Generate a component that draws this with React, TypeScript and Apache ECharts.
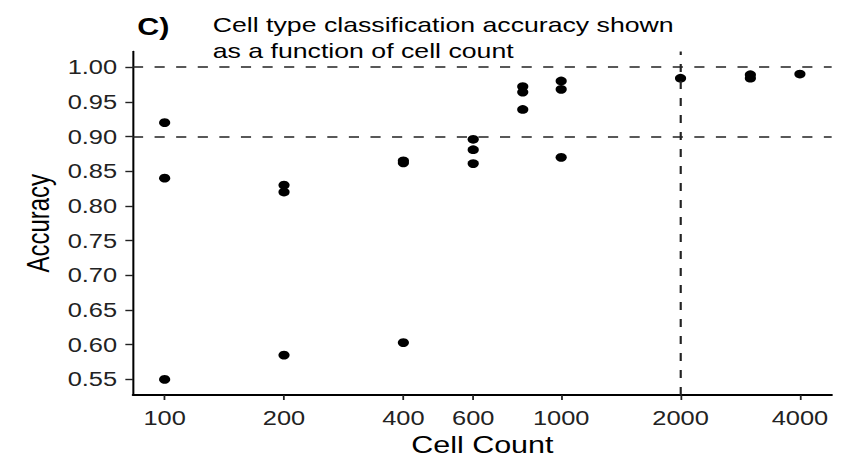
import React, { useEffect, useRef } from "react";
import * as echarts from "echarts";

// ---- data ----
const cellCounts = [100, 200, 400, 600, 800, 1000, 2000, 3000, 4000];
const accuracyByCount = [
  [0.92, 0.84, 0.55],
  [0.83, 0.82, 0.585],
  [0.865, 0.862, 0.603],
  [0.896, 0.881, 0.861],
  [0.972, 0.964, 0.939],
  [0.98, 0.968, 0.87],
  [0.984],
  [0.989, 0.984],
  [0.99],
];
const xTickValues = [100, 200, 400, 600, 1000, 2000, 4000];
const yTickValues = [0.55, 0.6, 0.65, 0.7, 0.75, 0.8, 0.85, 0.9, 0.95, 1.0];
const hLines = [1.0, 0.9];
const vLines = [2000];
const panelLabel = "C)";
const titleText = "Cell type classification accuracy shown\nas a function of cell count";
const xName = "Cell Count";
const yName = "Accuracy";

// the reference is stretched horizontally
const S = 1.27;
const W0 = 846 / S;
const H = 462;

export default function App() {
  const ref = useRef<HTMLDivElement>(null);
  useEffect(() => {
    if (!ref.current) return;
    const chart = echarts.init(ref.current, null, { renderer: "svg" });
    const points: number[][] = [];
    cellCounts.forEach((c, i) => accuracyByCount[i].forEach((a) => points.push([c, a])));
    const font = "'Liberation Sans', Arial, Helvetica, sans-serif";
    const dash = [8, 9];
    chart.setOption({
      animation: false,
      backgroundColor: "#ffffff",
      textStyle: { fontFamily: font },
      title: [
        {
          text: panelLabel,
          left: 103,
          top: 10,
          textStyle: { fontFamily: font, fontSize: 24, fontWeight: "bold", color: "#000" },
        },
        {
          text: titleText,
          left: 162.5,
          top: 6.5,
          textStyle: { fontFamily: font, fontSize: 21, lineHeight: 26, fontWeight: "normal", color: "#000" },
        },
      ],
      grid: { left: 104.7, right: W0 - 655, top: 51.5, bottom: H - 396.7 },
      xAxis: {
        type: "log",
        logBase: 10,
        min: 83.2,
        max: 4810,
        name: xName,
        nameLocation: "middle",
        nameGap: 38,
        nameTextStyle: { fontFamily: font, fontSize: 24, color: "#000" },
        axisLine: { show: true, lineStyle: { color: "#000", width: 2 } },
        axisTick: { show: true, length: 5, customValues: xTickValues, lineStyle: { color: "#222", width: 1.4 } },
        axisLabel: {
          customValues: xTickValues,
          margin: 13,
          fontFamily: font,
          fontSize: 20,
          color: "#222",
          formatter: (v: number) => String(Math.round(v)),
        },
        minorTick: { show: false },
        splitLine: { show: false },
      },
      yAxis: {
        type: "value",
        min: 0.5275,
        max: 1.0225,
        name: yName,
        nameLocation: "middle",
        nameGap: 61,
        nameRotate: 90,
        nameTextStyle: { fontFamily: font, fontSize: 24, color: "#000" },
        axisLine: { show: true, lineStyle: { color: "#000", width: 1.6 } },
        axisTick: { show: true, length: 6, customValues: yTickValues, lineStyle: { color: "#222", width: 1.4 } },
        axisLabel: {
          customValues: yTickValues,
          margin: 12.5,
          fontFamily: font,
          fontSize: 20,
          color: "#222",
          formatter: (v: number) => v.toFixed(2),
        },
        splitLine: { show: false },
      },
      series: [
        {
          type: "scatter",
          data: points,
          symbol: "circle",
          symbolSize: 8.8,
          itemStyle: { color: "#000", opacity: 1 },
          markLine: {
            silent: true,
            symbol: "none",
            label: { show: false },
            lineStyle: { type: dash, color: "#222", width: 1.7 },
            data: [
              ...hLines.map((y) => ({ yAxis: y })),
              ...vLines.map((x) => ({ xAxis: x })),
            ],
          },
        },
      ],
    });
    return () => chart.dispose();
  }, []);
  return (
    <div
      style={{
        position: "fixed",
        left: 0,
        top: 0,
        width: 846,
        height: H,
        overflow: "hidden",
        background: "#fff",
      }}
    >
      <div
        ref={ref}
        style={{
          width: W0,
          height: H,
          transform: `scaleX(${S})`,
          transformOrigin: "0 0",
        }}
      />
    </div>
  );
}
